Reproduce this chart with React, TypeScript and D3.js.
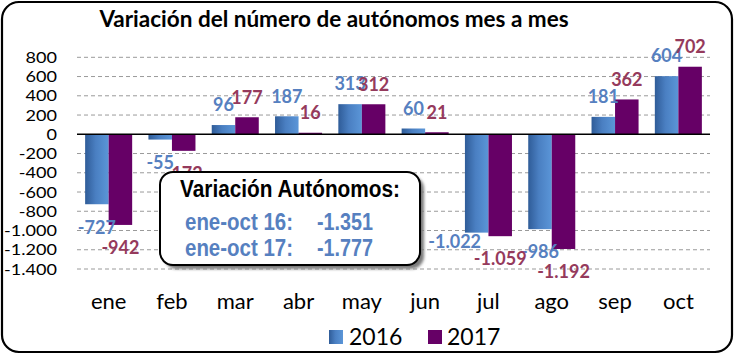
import React from "react";
import * as d3 from "d3";

const months = ["ene", "feb", "mar", "abr", "may", "jun", "jul", "ago", "sep", "oct"];
const values2016 = [-727, -55, 96, 187, 313, 60, -1022, -986, 181, 604];
const values2017 = [-942, -172, 177, 16, 312, 21, -1059, -1192, 362, 702];
const seriesNames = ["2016", "2017"];
const yTicks = [800, 600, 400, 200, 0, -200, -400, -600, -800, -1000, -1200, -1400];
const title = "Variación del número de autónomos mes a mes";
const boxTitle = "Variación Autónomos:";
const boxLabels = ["ene-oct 16:", "ene-oct 17:"];
const boxValues = [-1351, -1777];

const W = 735;
const H = 356;
const fontMain = "Lato, 'Open Sans', sans-serif";
const fontNarrow = "'Liberation Sans', Arial, sans-serif";
const blueLabel = "#5680c0";
const redLabel = "#953a5c";
const purple = "#660066";

const locale = d3.formatLocale({ decimal: ",", thousands: ".", grouping: [3], currency: ["", "€"], minus: "-" });
const fmt = locale.format(",d");

export default function App() {
  const y = d3.scaleLinear().domain([-1400, 800]).range([269, 57.3]);
  const x = d3.scaleBand<string>().domain(months).range([77, 710]).paddingInner(0.257).paddingOuter(0.1285);
  const xs = d3.scaleBand<string>().domain(seriesNames).range([0, x.bandwidth()]);
  const series = [
    { name: "2016", values: values2016, fill: "url(#gBlue)", label: blueLabel },
    { name: "2017", values: values2017, fill: purple, label: redLabel },
  ];
  const labelPos = (si: number, i: number, v: number) => {
    const cx = (x(months[i]) ?? 0) + (xs(seriesNames[si]) ?? 0) + xs.bandwidth() / 2;
    let cy = v >= 0 ? y(v) - 20 : y(v) + 23;
    let dx = 0;
    if (si === 0 && months[i] === "jul") {
      cy = y(v) + 9;
      dx = -22;
    }
    return { x: cx + dx, y: cy };
  };

  return (
    <svg width={W} height={H} style={{ position: "absolute", left: 0, top: 0, background: "#fff" }}>
      <defs>
        <linearGradient id="gBlue" x1="0" x2="1" y1="0" y2="0">
          <stop offset="0" stopColor="#2f5c98" />
          <stop offset="0.45" stopColor="#4a7fc2" />
          <stop offset="1" stopColor="#5b96d8" />
        </linearGradient>
        <filter id="shadow" x="-10%" y="-10%" width="130%" height="130%">
          <feGaussianBlur stdDeviation="1.5" />
        </filter>
      </defs>
      <rect x={0} y={0} width={W} height={H} fill="#fff" />
      {/* grid */}
      {yTicks.filter((t) => t !== 0).map((t) => (
        <line key={t} x1={77} x2={710} y1={y(t)} y2={y(t)} stroke="#9a9a9a" strokeWidth={1} strokeDasharray="4,3" />
      ))}
      {/* y tick labels */}
      {yTicks.map((t) => (
        <text key={t} transform={`translate(57,${y(t)}) scale(1.13,1)`} x={0} y={0} dy="0.35em" textAnchor="end" fontFamily={fontMain} fontSize={16} fill="#000">
          {fmt(t)}
        </text>
      ))}
      {/* bars */}
      {series.map((s, si) =>
        s.values.map((v, i) => (
          <rect
            key={s.name + i}
            x={(x(months[i]) ?? 0) + (xs(s.name) ?? 0)}
            width={xs.bandwidth()}
            y={Math.min(y(v), y(0))}
            height={Math.abs(y(v) - y(0))}
            fill={s.fill}
          />
        ))
      )}
      <line x1={77} x2={710} y1={y(0)} y2={y(0)} stroke="#000" strokeWidth={1.5} />
      {/* data labels */}
      {series.map((s, si) =>
        s.values.map((v, i) => {
          const p = labelPos(si, i, v);
          return (
            <text key={"l" + s.name + i} x={p.x} y={p.y} dy="0.35em" textAnchor="middle" fontFamily={fontMain} fontWeight={700} fontSize={18} fill={s.label}>
              {fmt(v)}
            </text>
          );
        })
      )}
      {/* x labels */}
      {months.map((m) => (
        <text key={m} x={(x(m) ?? 0) + x.bandwidth() / 2} y={309} textAnchor="middle" fontFamily={fontMain} fontSize={22} fill="#000">
          {m}
        </text>
      ))}
      {/* annotation box */}
      <rect x={164} y={176} width={260} height={93} rx={13} fill="#7a7a7a" filter="url(#shadow)" />
      <rect x={160} y={172} width={260} height={93} rx={13} fill="#fff" stroke="#000" strokeWidth={2} />
      <text x={180} y={197} fontFamily={fontNarrow} fontWeight={700} fontSize={23} textLength={220} lengthAdjust="spacingAndGlyphs" fill="#000">
        {boxTitle}
      </text>
      {boxLabels.map((l, i) => (
        <g key={l}>
          <text x={185} y={230 + i * 25.7} fontFamily={fontNarrow} fontWeight={700} fontSize={23} textLength={108} lengthAdjust="spacingAndGlyphs" fill={blueLabel}>
            {l}
          </text>
          <text x={317} y={230 + i * 25.7} fontFamily={fontNarrow} fontWeight={700} fontSize={23} textLength={56} lengthAdjust="spacingAndGlyphs" fill={blueLabel}>
            {fmt(boxValues[i])}
          </text>
        </g>
      ))}
      {/* legend */}
      <rect x={329} y={330} width={14} height={14} fill="url(#gBlue)" />
      <text x={349} y={345} fontFamily={fontMain} fontSize={23} fill="#000">{seriesNames[0]}</text>
      <rect x={428} y={330} width={14} height={14} fill={purple} />
      <text x={447} y={345} fontFamily={fontMain} fontSize={23} fill="#000">{seriesNames[1]}</text>
      {/* title */}
      <text x={334} y={27} textAnchor="middle" fontFamily={fontMain} fontWeight={700} fontSize={22.5} fill="#000">
        {title}
      </text>
      {/* outer border */}
      <rect x={2} y={2} width={730} height={350} rx={17} fill="none" stroke="#000" strokeWidth={2.2} />
    </svg>
  );
}
